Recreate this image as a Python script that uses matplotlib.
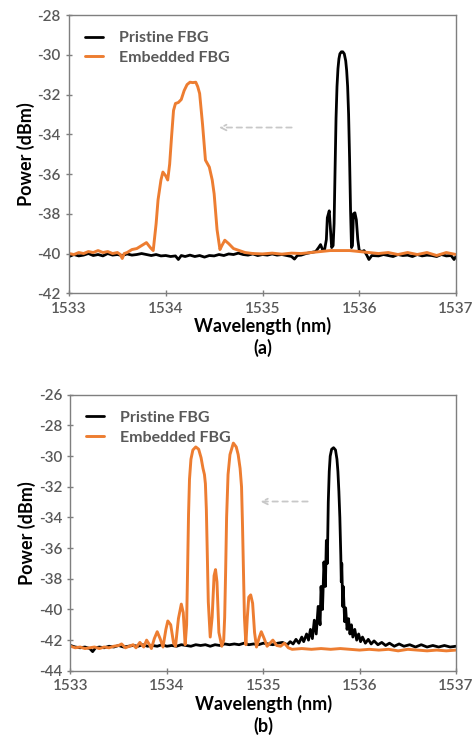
import matplotlib
matplotlib.use('Agg')
import matplotlib.pyplot as plt

plt.rcParams['font.family'] = ['Lato', 'DejaVu Sans']
plt.rcParams['axes.unicode_minus'] = False

# ---------------- panel (a) ----------------
wl_a_pristine = [1533.00, 1533.05, 1533.10, 1533.15, 1533.20, 1533.25, 1533.30, 1533.35, 1533.40, 1533.45,
                 1533.50, 1533.55, 1533.60, 1533.65, 1533.70, 1533.75, 1533.80, 1533.85, 1533.90, 1533.95,
                 1534.00, 1534.05, 1534.10, 1534.13, 1534.16, 1534.20, 1534.25, 1534.30, 1534.35, 1534.40,
                 1534.45, 1534.50, 1534.55, 1534.60, 1534.65, 1534.70, 1534.75, 1534.80, 1534.85, 1534.90,
                 1534.95, 1535.00, 1535.05, 1535.10, 1535.15, 1535.20, 1535.25, 1535.30, 1535.33, 1535.36,
                 1535.40, 1535.45, 1535.50, 1535.55, 1535.58, 1535.60, 1535.62, 1535.64, 1535.66, 1535.67,
                 1535.69, 1535.70, 1535.715, 1535.73, 1535.74, 1535.75, 1535.76, 1535.77, 1535.78, 1535.79,
                 1535.80, 1535.815, 1535.83, 1535.845, 1535.86, 1535.87, 1535.88, 1535.89, 1535.90, 1535.91,
                 1535.92, 1535.93, 1535.94, 1535.955, 1535.97, 1535.985, 1536.00,
                 1536.03, 1536.05, 1536.08, 1536.10, 1536.13, 1536.20, 1536.25, 1536.30, 1536.35, 1536.40,
                 1536.45, 1536.50, 1536.55, 1536.60, 1536.65, 1536.70, 1536.75, 1536.80, 1536.85, 1536.90,
                 1536.95, 1536.98, 1537.00]
pw_a_pristine = [-40.15, -40.05, -40.12, -40.08, -40.00, -40.10, -40.05, -40.12, -40.00, -40.08,
                 -40.05, -40.10, -40.02, -40.08, -40.05, -40.00, -40.05, -40.10, -40.05, -40.12,
                 -40.10, -40.15, -40.12, -40.30, -40.10, -40.15, -40.08, -40.15, -40.10, -40.18,
                 -40.10, -40.12, -40.05, -40.10, -40.02, -40.05, -39.98, -40.05, -40.08, -40.02,
                 -40.10, -40.05, -40.08, -40.02, -40.08, -40.05, -40.10, -40.15, -40.28, -40.10,
                 -40.08, -40.00, -39.95, -39.90, -39.70, -39.55, -39.80, -39.85, -39.30, -38.20,
                 -37.85, -38.60, -39.70, -39.60, -38.50, -35.80, -33.20, -31.60, -30.70, -30.20,
                 -29.95, -29.85, -29.85, -29.95, -30.30, -30.80, -31.60, -33.00, -35.20, -37.80,
                 -39.70, -39.60, -38.00, -37.95, -38.30, -39.30, -39.85,
                 -39.90, -39.85, -40.10, -40.30, -40.10, -40.12, -40.05, -40.10, -40.15, -40.05,
                 -40.10, -40.08, -40.15, -40.05, -40.12, -40.08, -40.10, -40.15, -40.05, -40.12,
                 -40.10, -40.30, -40.15]

wl_a_embedded = [1533.00, 1533.05, 1533.10, 1533.15, 1533.20, 1533.25, 1533.30, 1533.35, 1533.40, 1533.45,
                 1533.50, 1533.53, 1533.55, 1533.57, 1533.60, 1533.65, 1533.70, 1533.75, 1533.80, 1533.84,
                 1533.87, 1533.90, 1533.92, 1533.95, 1533.97, 1534.00, 1534.02, 1534.04, 1534.06, 1534.08,
                 1534.10, 1534.13, 1534.16, 1534.19, 1534.22, 1534.25, 1534.28, 1534.31, 1534.33, 1534.35,
                 1534.38, 1534.41, 1534.45, 1534.48, 1534.50, 1534.53, 1534.56, 1534.58, 1534.61, 1534.65,
                 1534.70, 1534.76, 1534.82, 1534.90, 1535.00, 1535.10, 1535.20, 1535.30, 1535.40, 1535.50,
                 1535.60, 1535.70, 1535.80, 1535.90, 1536.00, 1536.10, 1536.20, 1536.30, 1536.40, 1536.50,
                 1536.60, 1536.70, 1536.80, 1536.90, 1537.00]
pw_a_embedded = [-40.00, -40.05, -39.95, -40.00, -39.90, -39.95, -39.85, -39.95, -39.90, -40.00,
                 -39.95, -40.05, -40.25, -40.00, -39.95, -39.80, -39.75, -39.60, -39.45, -39.70,
                 -39.85, -38.50, -37.30, -36.30, -35.90, -36.10, -36.30, -35.50, -34.10, -32.80,
                 -32.45, -32.40, -32.25, -31.80, -31.50, -31.38, -31.40, -31.38, -31.60, -31.95,
                 -33.50, -35.30, -35.65, -36.30, -37.00, -38.80, -39.80, -39.60, -39.33, -39.50,
                 -39.75, -39.85, -39.95, -40.00, -40.02, -39.98, -40.03, -39.98, -40.00, -39.95,
                 -39.90, -39.85, -39.85, -39.85, -39.90, -39.95, -40.00, -39.95, -40.05, -39.95,
                 -40.05, -39.95, -40.10, -39.95, -40.05]

# shift arrow (start, end) and its level
arrow_a_x = [1535.33, 1534.52]
arrow_a_y = -33.66

# ---------------- panel (b) ----------------
wl_b_pristine = [1533.00, 1533.05, 1533.10, 1533.15, 1533.20, 1533.23, 1533.26, 1533.30, 1533.35, 1533.40,
                 1533.45, 1533.50, 1533.55, 1533.60, 1533.65, 1533.70, 1533.75, 1533.80, 1533.85, 1533.90,
                 1533.95, 1534.00, 1534.05, 1534.10, 1534.15, 1534.20, 1534.25, 1534.30, 1534.35, 1534.40,
                 1534.45, 1534.50, 1534.55, 1534.60, 1534.65, 1534.70, 1534.75, 1534.80, 1534.85, 1534.90,
                 1534.95, 1535.00, 1535.05, 1535.10, 1535.15, 1535.20, 1535.25, 1535.28, 1535.31, 1535.34,
                 1535.37, 1535.40, 1535.42, 1535.45, 1535.47, 1535.49, 1535.51, 1535.53, 1535.55, 1535.57,
                 1535.59, 1535.60, 1535.615, 1535.63, 1535.645, 1535.655, 1535.665, 1535.675, 1535.685, 1535.695,
                 1535.71, 1535.73, 1535.75, 1535.765, 1535.775, 1535.785, 1535.795, 1535.805, 1535.81, 1535.815,
                 1535.825, 1535.83, 1535.845, 1535.855, 1535.87, 1535.885,
                 1535.90, 1535.915, 1535.93, 1535.95, 1535.97, 1535.99, 1536.01, 1536.03, 1536.06, 1536.09,
                 1536.12, 1536.15, 1536.19, 1536.23, 1536.27, 1536.31, 1536.36, 1536.41, 1536.46, 1536.52,
                 1536.58, 1536.64, 1536.70, 1536.76, 1536.82, 1536.88, 1536.94, 1537.00]
pw_b_pristine = [-42.35, -42.45, -42.50, -42.45, -42.55, -42.75, -42.50, -42.45, -42.50, -42.40,
                 -42.45, -42.35, -42.45, -42.40, -42.35, -42.40, -42.30, -42.40, -42.35, -42.40,
                 -42.30, -42.40, -42.35, -42.40, -42.30, -42.35, -42.40, -42.30, -42.35, -42.30,
                 -42.40, -42.30, -42.35, -42.25, -42.30, -42.25, -42.30, -42.20, -42.30, -42.25,
                 -42.30, -42.20, -42.25, -42.30, -42.20, -42.15, -42.30, -42.10, -42.25, -41.95,
                 -42.20, -41.80, -42.10, -41.60, -42.00, -41.30, -41.90, -40.70, -41.60, -39.80,
                 -41.00, -38.50, -40.00, -36.90, -38.50, -35.50, -37.00, -33.00, -31.00, -30.00,
                 -29.55, -29.45, -29.60, -30.20, -31.00, -32.30, -34.00, -36.50, -38.20, -37.00,
                 -39.80, -38.50, -40.80, -39.90, -41.30, -40.60,
                 -41.60, -41.00, -41.80, -41.30, -42.00, -41.60, -42.10, -41.80, -42.20, -41.95,
                 -42.25, -42.05, -42.30, -42.15, -42.35, -42.20, -42.40, -42.25, -42.40, -42.30,
                 -42.45, -42.30, -42.45, -42.35, -42.45, -42.35, -42.45, -42.40]

wl_b_embedded = [1533.00, 1533.05, 1533.10, 1533.15, 1533.20, 1533.25, 1533.30, 1533.35, 1533.40, 1533.45,
                 1533.50, 1533.53, 1533.57, 1533.61, 1533.65, 1533.68, 1533.72, 1533.76, 1533.79, 1533.82,
                 1533.84, 1533.87, 1533.90, 1533.93, 1533.96, 1533.99, 1534.01, 1534.04, 1534.07, 1534.09,
                 1534.12, 1534.15, 1534.17, 1534.19, 1534.205, 1534.215, 1534.225, 1534.235, 1534.25, 1534.27,
                 1534.30, 1534.33, 1534.355, 1534.375, 1534.39, 1534.40, 1534.41, 1534.42, 1534.43, 1534.45,
                 1534.47, 1534.49, 1534.505, 1534.52, 1534.54, 1534.57, 1534.59, 1534.60, 1534.61, 1534.62,
                 1534.635, 1534.655, 1534.69, 1534.72, 1534.74, 1534.76, 1534.775, 1534.785, 1534.795, 1534.805,
                 1534.82, 1534.835, 1534.85, 1534.87, 1534.89, 1534.91, 1534.93, 1534.96, 1534.98, 1535.01,
                 1535.04, 1535.07, 1535.10, 1535.14, 1535.18, 1535.22, 1535.26, 1535.30, 1535.40, 1535.50,
                 1535.60, 1535.70, 1535.80, 1535.90, 1536.00, 1536.10, 1536.20, 1536.30, 1536.40, 1536.50,
                 1536.60, 1536.70, 1536.80, 1536.90, 1537.00]
pw_b_embedded = [-42.40, -42.50, -42.45, -42.55, -42.50, -42.45, -42.55, -42.45, -42.50, -42.40,
                 -42.35, -42.25, -42.50, -42.40, -42.30, -42.50, -42.15, -42.45, -42.00, -42.30,
                 -42.55, -41.90, -41.45, -41.90, -42.45, -41.30, -40.75, -41.00, -42.20, -42.40,
                 -40.60, -39.65, -40.20, -42.30, -41.00, -37.50, -33.80, -31.50, -30.20, -29.60,
                 -29.40, -29.55, -30.10, -30.80, -31.20, -31.80, -33.50, -36.50, -39.50, -41.80,
                 -40.50, -37.80, -37.40, -38.20, -41.50, -42.40, -42.00, -40.50, -37.50, -34.00,
                 -31.20, -29.90, -29.15, -29.40, -29.90, -30.80, -32.00, -34.50, -37.50, -40.50,
                 -42.30, -40.50, -39.20, -39.05, -39.60, -41.50, -42.45, -41.80, -41.45, -41.90,
                 -42.40, -42.20, -42.00, -42.35, -42.40, -42.20, -42.50, -42.60, -42.55, -42.60,
                 -42.55, -42.60, -42.55, -42.60, -42.65, -42.60, -42.65, -42.60, -42.70, -42.60,
                 -42.65, -42.70, -42.65, -42.70, -42.65]

arrow_b_x = [1535.49, 1534.94]
arrow_b_y = -32.96

x_ticks = [1533, 1534, 1535, 1536, 1537]
y_ticks_a = list(range(-42, -27, 2))
y_ticks_b = list(range(-44, -25, 2))

ORANGE = '#ED7D31'
GREY_TXT = '#595959'
FRAME = '#7f7f7f'


def draw_panel(ax, wl_p, pw_p, wl_e, pw_e, arrow_x, arrow_y, yticks, tag, fig):
    ax.plot(wl_p, pw_p, color='black', lw=2.0, label='Pristine FBG',
            solid_joinstyle='round', solid_capstyle='round')
    ax.plot(wl_e, pw_e, color=ORANGE, lw=2.1, label='Embedded FBG',
            solid_joinstyle='round', solid_capstyle='round')

    ax.annotate('', xy=(arrow_x[1], arrow_y), xytext=(arrow_x[0], arrow_y),
                arrowprops=dict(arrowstyle='->', color='#c8c8c8', lw=1.3, linestyle=(0, (3, 2.5))))

    ax.set_xlim(x_ticks[0], x_ticks[-1])
    ax.set_ylim(yticks[0], yticks[-1])
    ax.set_xticks(x_ticks)
    ax.set_yticks(yticks)
    ax.tick_params(direction='inout', length=5, width=1, color=FRAME, labelcolor=GREY_TXT,
                   labelsize=11)
    for lab in ax.get_xticklabels() + ax.get_yticklabels():
        lab.set_fontweight('semibold')
    for sp in ax.spines.values():
        sp.set_color(FRAME)
        sp.set_linewidth(1.0)

    ax.set_xlabel('Wavelength (nm)', fontsize=13, fontweight='bold', labelpad=1)
    ax.set_ylabel('Power (dBm)', fontsize=13, fontweight='bold', labelpad=2)

    leg = ax.legend(loc='upper left', frameon=False, handlelength=1.1, handletextpad=1.0,
                    borderaxespad=0.3, borderpad=0.7, labelspacing=0.35,
                    prop={'size': 11.5, 'weight': 'bold'})
    for t in leg.get_texts():
        t.set_color(GREY_TXT)

    pos = ax.get_position()
    fig.text((pos.x0 + pos.x1) / 2, pos.y0 - 0.073, tag, ha='center', va='center',
             fontsize=13, fontweight='bold')


if __name__ == "__main__":
    fig = plt.figure(figsize=(4.73, 7.52), dpi=100)
    ax_a = fig.add_axes([0.146, 0.610, 0.818, 0.370])
    ax_b = fig.add_axes([0.149, 0.108, 0.815, 0.367])

    draw_panel(ax_a, wl_a_pristine, pw_a_pristine, wl_a_embedded, pw_a_embedded,
               arrow_a_x, arrow_a_y, y_ticks_a, '(a)', fig)
    draw_panel(ax_b, wl_b_pristine, pw_b_pristine, wl_b_embedded, pw_b_embedded,
               arrow_b_x, arrow_b_y, y_ticks_b, '(b)', fig)

    fig.savefig('out.png', dpi=100)
